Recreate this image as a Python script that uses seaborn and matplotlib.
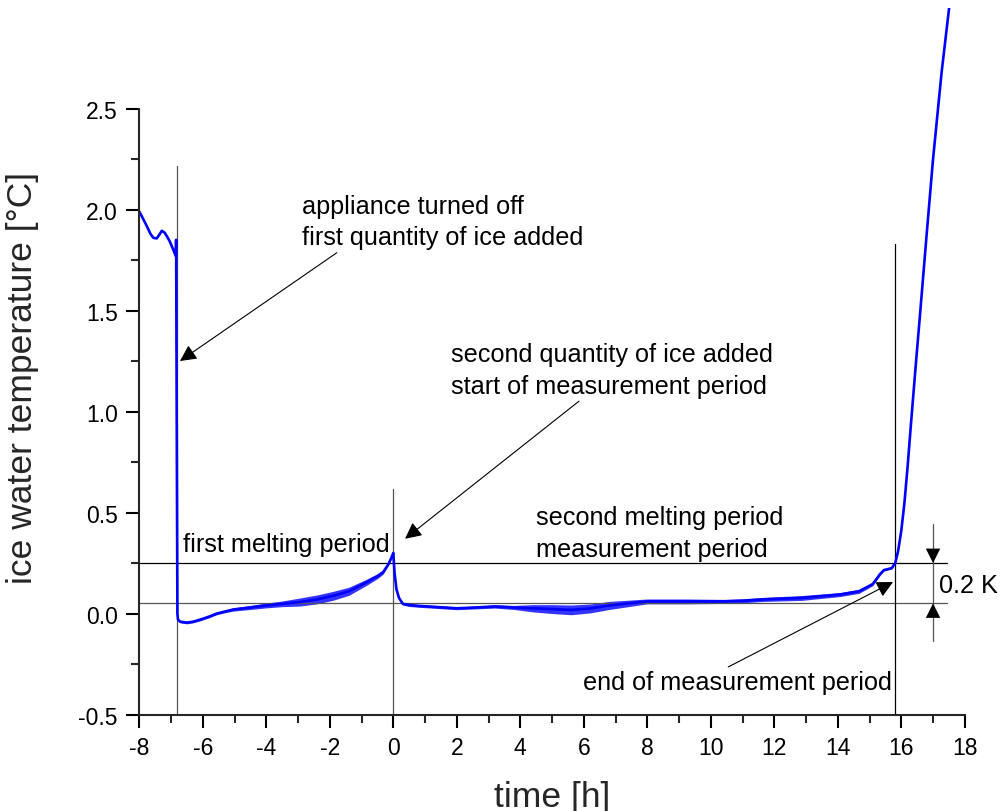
import numpy as np
import pandas as pd
import matplotlib
matplotlib.use("Agg")
import matplotlib.pyplot as plt
import seaborn as sns

# ice water temperature curve
time_h = [-8.0, -7.9, -7.77, -7.65, -7.56, -7.45, -7.35, -7.29, -7.2, -7.14,
          -7.05, -6.98, -6.85, -6.84, -6.82, -6.80, -6.78,
          -6.72, -6.5, -6.3, -6.08, -5.8, -5.56, -5.3, -5.04, -4.5, -4.0,
          -3.5, -2.94, -2.4, -1.89, -1.4, -0.84, -0.5, -0.32, -0.15, -0.05, 0.0,
          0.04, 0.1, 0.18, 0.3, 0.5, 0.79, 1.4, 2.0, 2.6, 3.2, 3.8, 4.4,
          5.0, 5.6, 6.2, 6.8, 7.4, 8.0, 9.24, 10.4, 11.0, 11.66, 12.86,
          14.07, 14.67, 15.1, 15.33, 15.45, 15.7, 15.81, 15.9, 16.0, 16.1,
          16.2, 16.3, 16.45, 16.6, 16.8, 17.0, 17.27, 17.53]
temp_c = [1.99, 1.96, 1.92, 1.88, 1.86, 1.857, 1.88, 1.895, 1.885, 1.87,
          1.845, 1.82, 1.77, 1.85, 0.9, 0.0, -0.03,
          -0.04, -0.045, -0.04, -0.03, -0.015, 0.0, 0.01, 0.02, 0.03, 0.04,
          0.048, 0.057, 0.07, 0.088, 0.11, 0.155, 0.185, 0.205, 0.245, 0.28, 0.30,
          0.2, 0.12, 0.077, 0.048, 0.042, 0.038, 0.032, 0.026, 0.03, 0.035, 0.03, 0.026,
          0.022, 0.018, 0.025, 0.04, 0.05, 0.06, 0.06, 0.06, 0.063, 0.07, 0.077,
          0.094, 0.11, 0.146, 0.195, 0.215, 0.225, 0.25, 0.31, 0.41, 0.55,
          0.73, 0.93, 1.22, 1.5, 1.88, 2.25, 2.68, 3.03]
# half width of the measurement noise band
noise_c = [0, 0, 0, 0, 0, 0, 0, 0, 0, 0,
           0, 0, 0, 0, 0, 0, 0,
           0.006, 0.006, 0.006, 0.006, 0.006, 0.006, 0.006, 0.008, 0.01, 0.012,
           0.014, 0.02, 0.022, 0.022, 0.02, 0.015, 0.012, 0.01, 0.006, 0.004, 0,
           0, 0, 0.004, 0.006, 0.007, 0.007, 0.007, 0.007, 0.007, 0.008, 0.01, 0.018,
           0.022, 0.024, 0.022, 0.02, 0.016, 0.012, 0.012, 0.01, 0.01, 0.01, 0.012,
           0.01, 0.01, 0.008, 0.006, 0.005, 0.004, 0, 0, 0, 0,
           0, 0, 0, 0, 0, 0, 0, 0]

x_ticks = [-8, -6, -4, -2, 0, 2, 4, 6, 8, 10, 12, 14, 16, 18]
y_ticks = [-0.5, 0.0, 0.5, 1.0, 1.5, 2.0, 2.5]

# reference levels and event times
upper_level = 0.25
lower_level = 0.05
t_off = -6.82
t_start = 0.0
t_end = 15.81

df = pd.DataFrame({"time": time_h, "temp": temp_c, "noise": noise_c})

sns.set_style("ticks")
plt.rcParams["font.family"] = ["Liberation Sans", "DejaVu Sans"]
plt.rcParams["axes.unicode_minus"] = False

fig = plt.figure(figsize=(10, 8.12), dpi=100)
ax = fig.add_axes([0.1393, 0.1188, 0.8255, 0.8707])

# guide lines
ax.plot([-8, 17.43], [upper_level, upper_level], color="black", lw=0.9)
ax.plot([-8, 17.43], [lower_level, lower_level], color="#555555", lw=0.9)
ax.plot([t_off, t_off], [-0.5, 2.215], color="#555555", lw=0.9)
ax.plot([t_start, t_start], [-0.5, 0.616], color="#555555", lw=0.9)
ax.plot([t_end, t_end], [-0.5, 1.83], color="black", lw=0.9)

# data
ax.fill_between(df["time"], df["temp"] - df["noise"], df["temp"] + df["noise"],
                color="#0000ff", lw=0, alpha=0.8)
sns.lineplot(data=df, x="time", y="temp", ax=ax, color="#0000ff", lw=1.9,
             sort=False, estimator=None)

ax.set_xlim(-8, 18)
ax.set_ylim(-0.5, 3.0)
ax.set_xticks(x_ticks)
ax.set_xticks(np.arange(-7, 18, 2), minor=True)
ax.set_yticks(y_ticks)
ax.set_yticks(np.arange(-0.25, 2.5, 0.5), minor=True)
ax.set_yticklabels([f"{v:.1f}" for v in y_ticks])
ax.spines["top"].set_visible(False)
ax.spines["right"].set_visible(False)
ax.spines["left"].set_bounds(-0.5, 2.5)
for s in ["left", "bottom"]:
    ax.spines[s].set_linewidth(1.5)
ax.tick_params(which="major", length=9.5, width=1.5, labelsize=16.5, pad=6,
               colors="black")
ax.tick_params(which="minor", length=5.5, width=1.5)

ax.set_xlabel("time [h]", fontsize=25.5)
ax.set_ylabel("ice water temperature [°C]", fontsize=25.5)
ax.xaxis.set_label_coords(0.5, -0.092)
ax.yaxis.set_label_coords(-0.122, 0.477)

ann = dict(fontsize=18.2, color="black", linespacing=1.4)
arrow = dict(arrowstyle="-|>", color="black", lw=0.8, mutation_scale=25,
             shrinkA=0, shrinkB=0)

ax.annotate("appliance turned off\nfirst quantity of ice added",
            xy=(-6.72, 1.25), xytext=(-2.87, 1.94), va="center", ha="left",
            arrowprops=dict(arrow, relpos=(0.14, 0.0)), **ann)
ax.annotate("second quantity of ice added\nstart of measurement period",
            xy=(0.37, 0.37), xytext=(1.82, 1.205), va="center", ha="left",
            arrowprops=dict(arrow, relpos=(0.41, 0.0)), **ann)
ax.annotate("end of measurement period",
            xy=(15.74, 0.156), xytext=(5.97, -0.34), va="center", ha="left",
            arrowprops=dict(arrow, relpos=(0.45, 1.0)), **ann)
ax.text(-6.63, 0.344, "first melting period", va="center", ha="left", **ann)
ax.text(4.49, 0.40, "second melting period\nmeasurement period",
        va="center", ha="left", **ann)

# 0.2 K dimension mark
ax.plot([17, 17], [-0.135, 0.443], color="#555555", lw=0.9, clip_on=False)
dim = dict(arrowstyle="-|>", color="black", lw=0, mutation_scale=26,
           shrinkA=0, shrinkB=0)
ax.annotate("", xy=(17, upper_level), xytext=(17, 0.34), arrowprops=dim)
ax.annotate("", xy=(17, lower_level), xytext=(17, -0.04), arrowprops=dim)
ax.text(17.19, 0.141, "0.2 K", va="center", ha="left", clip_on=False, **ann)

fig.savefig("out.png", dpi=100)
